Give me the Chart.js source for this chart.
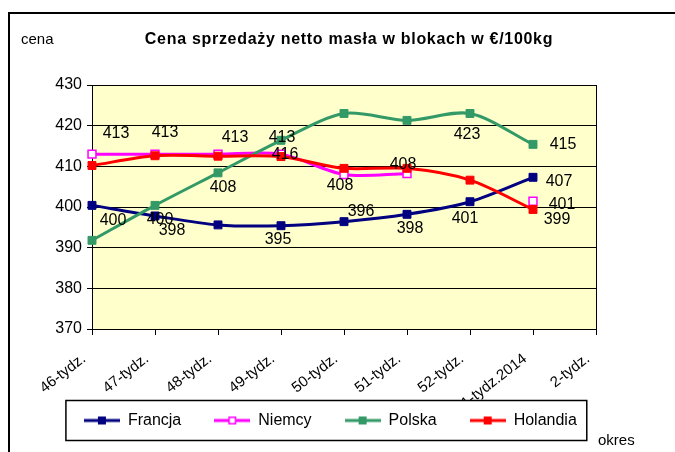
<!DOCTYPE html>
<html>
<head>
<meta charset="utf-8">
<script src="https://cdn.jsdelivr.net/npm/chart.js@4/dist/chart.umd.min.js"></script>
<style>
    body {margin: 0; background: #fff; overflow: hidden;}
    #frame {position: absolute; left: 8px; top: 12px; width: 700px; height: 470px; border: 2px solid #000;}
    #wrap {position: absolute; left: 0; top: 0; width: 675px; height: 452px;}
</style>
</head>
<body>
<div id="frame"></div>
<div id="wrap"><canvas id="myChart" width="675" height="452"></canvas></div>
<script>
const weeks = ['46-tydz.', '47-tydz.', '48-tydz.', '49-tydz.', '50-tydz.', '51-tydz.', '52-tydz.', '1-tydz.2014', '2-tydz.']
const yTicks = [370, 380, 390, 400, 410, 420, 430]

const francja  = [400.4, 397.8, 395.6, 395.4, 396.4, 398.2, 401.3, 407.3, null]
const niemcy   = [413.0, 413.0, 413.0, 413.0, 408.0, 408.2, null, 401.4, null]
const polska   = [391.8, 400.4, 408.4, 416.4, 423.0, 421.3, 423.0, 415.4, null]
const holandia = [410.2, 412.6, 412.5, 412.4, 409.5, 409.5, 406.6, 399.4, null]

// gdzie stoi etykieta wartosci wzgledem punktu (null = brak etykiety)
const francjaLbl  = [[21, 15], [17, 15], null, [-3, 14], [17, -10], [3, 14], [-5, 17], [26, 4], null]
const niemcyLbl   = [[24, -21], [10, -22], [17, -17], [1, -17], [-4, 11], [-4, -9], null, [29, 3], null]
const polskaLbl   = [null, [5, 14], [5, 15], [4, 14], null, null, [-3, 21], [30, 0], null]
const holandiaLbl = [null, null, null, null, null, null, null, [24, 10], null]

const FONT = '"Liberation Sans", Arial, sans-serif'
Chart.defaults.font.family = FONT
Chart.defaults.color = '#000'

function legendIcon(color, hollow) {
    const c = document.createElement('canvas')
    c.width = 36
    c.height = 12
    const g = c.getContext('2d')
    g.strokeStyle = color
    g.lineWidth = 3
    g.beginPath()
    g.moveTo(0, 6)
    g.lineTo(36, 6)
    g.stroke()
    g.fillStyle = hollow ? '#fff' : color
    g.fillRect(14, 2, 8, 8)
    if (hollow) {
        g.lineWidth = 1.5
        g.strokeRect(14.75, 2.75, 6.5, 6.5)
    }
    return c
}

// order: jak w Excelu kolejna seria rysuje sie na wierzchu
function series(label, values, color, hollow, lbl, order) {
    return {
        label: label,
        data: values,
        order: order,
        borderColor: color,
        backgroundColor: color,
        borderWidth: 3,
        tension: 0.3,
        spanGaps: false,
        pointStyle: 'rect',
        pointRadius: 5.6,
        pointBorderWidth: hollow ? 1.5 : 1,
        pointBackgroundColor: hollow ? '#fff' : color,
        pointBorderColor: color,
        icon: legendIcon(color, hollow),
        lblPos: lbl
    }
}

const plotBox = {
    id: 'plotBox',
    afterLayout(chart) {
        // etykiety osi X schodza nizej niz pudelko osi, wiec poszerzamy obszar przyciecia
        const x = chart.scales.x
        x.bottom = x.top + 80
    },
    beforeDraw(chart) {
        const {ctx, chartArea: a} = chart
        ctx.save()
        ctx.fillStyle = '#FFFFCC'
        ctx.fillRect(a.left, a.top, a.right - a.left, a.bottom - a.top)
        ctx.restore()
    },
    beforeDatasetsDraw(chart) {
        const {ctx, chartArea: a} = chart
        ctx.save()
        ctx.strokeStyle = '#000'
        ctx.lineWidth = 1
        ctx.strokeRect(a.left + 0.5, a.top + 0.5, a.right - a.left, a.bottom - a.top)
        ctx.restore()
    }
}

const pointLabels = {
    id: 'pointLabels',
    afterDatasetsDraw(chart) {
        const ctx = chart.ctx
        ctx.save()
        ctx.font = '16px ' + FONT
        ctx.fillStyle = '#000'
        ctx.textAlign = 'center'
        ctx.textBaseline = 'middle'
        chart.data.datasets.forEach((ds, i) => {
            const meta = chart.getDatasetMeta(i)
            ds.lblPos.forEach((off, j) => {
                if (!off || ds.data[j] == null) return
                const pt = meta.data[j]
                ctx.fillText(String(Math.round(ds.data[j])), pt.x + off[0], pt.y + off[1])
            })
        })
        ctx.restore()
    }
}

const texts = {
    id: 'texts',
    afterDraw(chart) {
        const ctx = chart.ctx
        ctx.save()
        ctx.fillStyle = '#000'
        ctx.textBaseline = 'middle'
        ctx.textAlign = 'center'
        ctx.font = 'bold 16px ' + FONT
        ctx.letterSpacing = '0.7px'
        ctx.fillText('Cena sprzedaży netto masła w blokach w €/100kg', 349, 40)
        ctx.letterSpacing = '0px'
        ctx.textAlign = 'left'
        ctx.font = '15px ' + FONT
        ctx.fillText('cena', 21, 40)
        ctx.fillText('okres', 598, 441)

        // ramka legendy z bialym tlem, potem legenda jeszcze raz na wierzchu
        const hb = chart.legend.legendHitBoxes
        if (hb && hb.length) {
            const l = Math.min(...hb.map(h => h.left)) - 18
            const r = Math.max(...hb.map(h => h.left + h.width)) + 10
            const t = hb[0].top - 12
            ctx.fillStyle = '#fff'
            ctx.fillRect(l, t, r - l, 40)
            ctx.strokeStyle = '#000'
            ctx.lineWidth = 1.5
            ctx.strokeRect(l, t, r - l, 40)
        }
        ctx.restore()
        chart.legend.draw()
    }
}

function drawChart() {
    const ctx = document.getElementById('myChart')
    const data = {
        labels: weeks,
        datasets: [
            series('Francja', francja, '#000080', false, francjaLbl, 4),
            series('Niemcy', niemcy, '#FF00FF', true, niemcyLbl, 3),
            series('Polska', polska, '#339966', false, polskaLbl, 2),
            series('Holandia', holandia, '#FF0000', false, holandiaLbl, 1)
        ]
    }

    const config = {
        type: 'line',
        data: data,
        plugins: [plotBox, pointLabels, texts],
        options: {
            responsive: false,
            animation: false,
            layout: {padding: {top: 85, right: 14.3, bottom: 13.5, left: 0}},
            plugins: {
                title: {display: false},
                tooltip: {enabled: false},
                legend: {
                    position: 'bottom',
                    labels: {
                        usePointStyle: true,
                        pointStyleWidth: 36,
                        padding: 33,
                        font: {size: 16},
                        color: '#000',
                        sort: (a, b) => a.datasetIndex - b.datasetIndex,
                        generateLabels(chart) {
                            const items = Chart.defaults.plugins.legend.labels.generateLabels(chart)
                            items.forEach(it => { it.pointStyle = chart.data.datasets[it.datasetIndex].icon })
                            return items
                        }
                    }
                }
            },
            scales: {
                x: {
                    offset: false,
                    grid: {display: true, drawOnChartArea: false, drawTicks: true, tickLength: 6, color: '#000'},
                    border: {display: true, color: '#000'},
                    ticks: {minRotation: 38, maxRotation: 38, autoSkip: false, font: {size: 15}, color: '#000', padding: 15, labelOffset: -8},
                    afterFit(s) { s.height = 50.5 }
                },
                y: {
                    min: yTicks[0],
                    max: yTicks[yTicks.length - 1],
                    afterBuildTicks(s) { s.ticks = yTicks.map(v => ({value: v})) },
                    grid: {color: '#000', tickLength: 5},
                    border: {display: true, color: '#000'},
                    ticks: {font: {size: 16}, color: '#000', padding: 5},
                    afterFit(s) { s.width = 92 }
                },
                yR: {
                    position: 'right',
                    min: 0,
                    max: 1,
                    grid: {display: false},
                    border: {display: false},
                    ticks: {display: false},
                    afterFit(s) { s.width = 64.7 }
                }
            }
        }
    }

    new Chart(ctx, config)
}

document.addEventListener('DOMContentLoaded', drawChart)
</script>
</body>
</html>
